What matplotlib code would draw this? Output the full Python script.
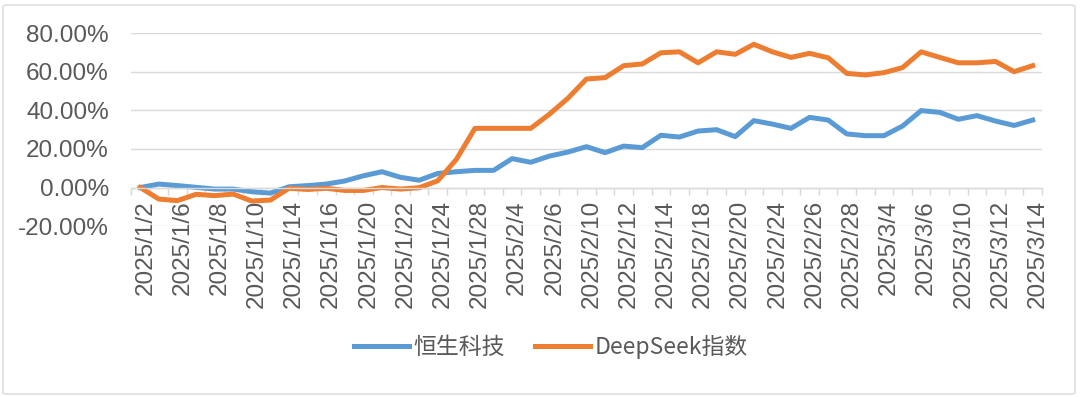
import matplotlib.pyplot as plt
from matplotlib.patches import FancyBboxPatch
from matplotlib.ticker import FuncFormatter, FixedLocator
from matplotlib.transforms import ScaledTranslation

dates = ["2025/1/2", "2025/1/3", "2025/1/6", "2025/1/7", "2025/1/8", "2025/1/9", "2025/1/10",
         "2025/1/13", "2025/1/14", "2025/1/15", "2025/1/16", "2025/1/17", "2025/1/20", "2025/1/21",
         "2025/1/22", "2025/1/23", "2025/1/24", "2025/1/27", "2025/1/28", "2025/2/3", "2025/2/4",
         "2025/2/5", "2025/2/6", "2025/2/7", "2025/2/10", "2025/2/11", "2025/2/12", "2025/2/13",
         "2025/2/14", "2025/2/17", "2025/2/18", "2025/2/19", "2025/2/20", "2025/2/21", "2025/2/24",
         "2025/2/25", "2025/2/26", "2025/2/27", "2025/2/28", "2025/3/3", "2025/3/4", "2025/3/5",
         "2025/3/6", "2025/3/7", "2025/3/10", "2025/3/11", "2025/3/12", "2025/3/13", "2025/3/14"]

# cumulative return, percent
hstech = [0.0, 1.8, 1.0, 0.1, -0.8, -0.8, -2.2, -2.9, 0.4, 1.0, 1.8, 3.4, 6.1, 8.2, 5.3,
          3.8, 7.3, 8.2, 8.9, 8.9, 15.0, 13.1, 16.3, 18.4, 21.2, 18.1, 21.5, 20.7, 27.1,
          26.2, 29.3, 30.0, 26.4, 34.7, 32.9, 30.7, 36.4, 35.0, 27.8, 26.9, 26.9, 31.9,
          39.9, 39.0, 35.4, 37.3, 34.5, 32.2, 35.0]
deepseek = [0.0, -6.0, -6.8, -3.5, -4.2, -3.4, -7.0, -6.5, -0.4, -1.0, -0.4, -1.5, -1.5,
            0.0, -0.8, -0.1, 3.5, 14.6, 30.7, 30.7, 30.7, 30.7, 38.0, 46.3, 56.3, 57.0,
            63.2, 64.1, 69.9, 70.4, 64.7, 70.4, 69.1, 74.3, 70.4, 67.5, 69.6, 67.3, 59.2,
            58.4, 59.6, 62.2, 70.4, 67.5, 64.7, 64.7, 65.4, 60.1, 63.2]

names = ["恒生科技", "DeepSeek指数"]
colors = ["#5B9BD5", "#ED7D31"]
grey_txt = "#595959"
grey_line = "#D9D9D9"

fig = plt.figure(figsize=(10.8, 3.97), dpi=100)
ax = fig.add_axes([0.1213, 0.4305, 0.8435, 0.4856])

x = list(range(len(dates)))
ax.plot(x, hstech, color=colors[0], lw=3.6, label=names[0], solid_joinstyle="round")
ax.plot(x, deepseek, color=colors[1], lw=3.6, label=names[1], solid_joinstyle="round")

ax.set_xlim(-0.5, len(dates) - 0.5)
ax.set_ylim(-20, 80)
ax.set_yticks([-20, 0, 20, 40, 60, 80])
ax.yaxis.set_major_formatter(FuncFormatter(lambda v, p: f"{v:.2f}%"))
ax.grid(axis="y", color=grey_line, lw=1)
ax.set_axisbelow(True)

for s in ["left", "right", "top"]:
    ax.spines[s].set_visible(False)
ax.spines["bottom"].set_position(("data", 0))
ax.spines["bottom"].set_color(grey_line)
ax.spines["bottom"].set_linewidth(1)

ax.set_xticks(x[::2])
ax.set_xticklabels(dates[::2], rotation=90)
ax.xaxis.set_minor_locator(FixedLocator([i - 0.5 for i in range(len(dates) + 1)]))
ax.tick_params(axis="x", which="major", length=0, pad=9, labelsize=17.5, labelcolor=grey_txt)
ax.tick_params(axis="x", which="minor", length=5, color=grey_line, width=1)
ax.tick_params(axis="y", length=0, pad=16, labelsize=17.5, labelcolor=grey_txt)

# excel puts the rotated labels a little right of the point
shift = ScaledTranslation(5 / 100, 0, fig.dpi_scale_trans)
for lab in ax.get_xticklabels():
    lab.set_family("Liberation Sans")
    lab.set_transform(lab.get_transform() + shift)
for lab in ax.get_yticklabels():
    lab.set_family("Liberation Sans")

leg = fig.legend(loc="center", bbox_to_anchor=(551 / 1080, 1 - 347 / 397), ncol=2,
                 frameon=False, handlelength=2.4, handletextpad=0.2, columnspacing=1.3,
                 prop={"family": ["Noto Sans CJK SC", "DejaVu Sans"], "size": 16.5})
for t in leg.get_texts():
    t.set_color(grey_txt)

border = FancyBboxPatch((3 / 1080, 3 / 397), 1072 / 1080, 389 / 397,
                        boxstyle="round,pad=0,rounding_size=0.004",
                        transform=fig.transFigure, facecolor="none",
                        edgecolor=grey_line, lw=1)
fig.patches.append(border)

fig.savefig("out.png", dpi=100)
